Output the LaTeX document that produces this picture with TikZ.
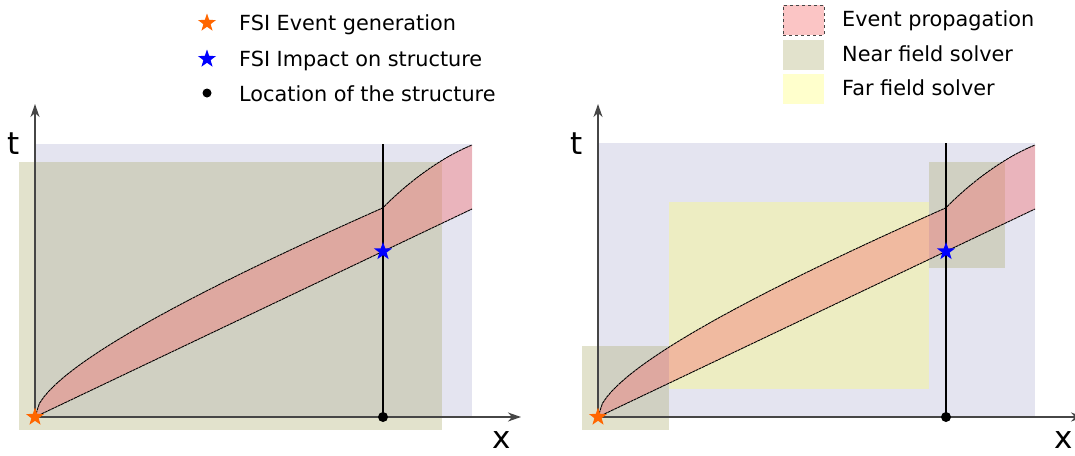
\documentclass[tikz,border=0pt]{standalone}
\usepackage{fontspec}
\setmainfont{DejaVu Sans}
\usetikzlibrary{shapes.geometric,arrows.meta}
\definecolor{lav}{RGB}{228,228,240}
\definecolor{nearc}{RGB}{168,168,102}
\definecolor{farc}{RGB}{255,255,102}
\definecolor{bandc}{RGB}{245,110,110}
\definecolor{orangestar}{RGB}{255,102,0}
\definecolor{axisc}{RGB}{70,70,70}
\begin{document}
\begin{tikzpicture}[x=1pt,y=-1pt,
  domainrect/.style={fill=lav},
  nearfield/.style={fill=nearc,fill opacity=0.333},
  farfield/.style={fill=farc,fill opacity=0.333},
  bandfill/.style={fill=bandc,fill opacity=0.4},
  bandedge/.style={black,line width=0.9pt,dash pattern=on 3pt off 0.6pt},
  axisline/.style={draw=axisc,line width=1.4pt,-{Stealth[length=13pt,width=9pt,inset=4pt]}},
  structline/.style={black,line width=1.2pt},
  ostar/.style={star,star points=5,star point ratio=2.5,fill=orangestar,inner sep=0pt,minimum size=19pt},
  bstar/.style={star,star points=5,star point ratio=2.5,fill=blue,inner sep=0pt,minimum size=19pt},
  sdot/.style={circle,fill=black,inner sep=0pt,minimum size=10pt},
  ldot/.style={circle,fill=black,inner sep=0pt,minimum size=9pt},
  lab/.style={font=\fontsize{20.8}{25}\selectfont,anchor=base west,inner sep=0pt},
  axlab/.style={font=\fontsize{31}{36}\selectfont,anchor=base,inner sep=0pt},
  legbox/.style={minimum width=41pt,minimum height=30pt,inner sep=0pt},
]
\clip (0,0) rectangle (1075,455);

% ---------------- legends ----------------
\node[ostar] (lg1) at (207,23) {};
\node[lab] (lt1) at (239,30) {FSI Event generation};
\node[bstar] (lg2) at (207,59) {};
\node[lab] (lt2) at (239,66) {FSI Impact on structure};
\node[ldot] (lg3) at (207,93) {};
\node[lab] (lt3) at (239,101) {Location of the structure};

\node[legbox,bandfill,draw=axisc,dashed,line width=0.9pt] (lb1) at (803.5,20) {};
\node[lab] (lbt1) at (842,26) {Event propagation};
\node[legbox,nearfield] (lb2) at (803.5,54.5) {};
\node[lab] (lbt2) at (842,61) {Near field solver};
\node[legbox,farfield] (lb3) at (803.5,88.5) {};
\node[lab] (lbt3) at (842,95) {Far field solver};

% ---------------- left panel ----------------
\begin{scope}
  \fill[domainrect] (35,144) rectangle (472,417);
  \fill[nearfield] (19,162) rectangle (442,430);
  \fill[bandfill] plot[domain=0:348,samples=80] ({35+\x},{417-0.286*\x-5.88*sqrt(\x)})
     .. controls (400,190) and (435,160) .. (472,145) -- (472,209) -- cycle;
  \draw[bandedge] plot[domain=0:348,samples=80] ({35+\x},{417-0.286*\x-5.88*sqrt(\x)})
     .. controls (400,190) and (435,160) .. (472,145);
  \coordinate (Lo) at (35,417);
  \coordinate (Lend) at (472,209);
  \coordinate (Lttop) at (35,104);
  \coordinate (Lxend) at (521,417);
  \coordinate (Lstop) at (383,144);
  \draw[bandedge] (Lo) -- (Lend);
  \draw[axisline] (Lo) -- (Lttop);
  \draw[axisline] (Lo) -- (Lxend);
  \node[sdot] (Ldot) at (383,417) {};
  \draw[structline] (Lstop) -- (Ldot.center);
  \node[bstar] (Limp) at (383,251.4) {};
  \node[ostar] (Lgen) at (Lo) {};
  \node[axlab] (Lt) at (14,154) {t};
  \node[axlab] (Lx) at (502,448) {x};
\end{scope}

% ---------------- right panel ----------------
\begin{scope}[xshift=563pt]
  \fill[domainrect] (35,143) rectangle (472,417);
  \fill[farfield] (105.5,202) rectangle (366,389);
  \fill[nearfield] (366,162) rectangle (442,268);
  \fill[nearfield] (19,346) rectangle (105.5,430);
  \fill[bandfill] plot[domain=0:348,samples=80] ({35+\x},{417-0.286*\x-5.88*sqrt(\x)})
     .. controls (400,190) and (435,160) .. (472,145) -- (472,209) -- cycle;
  \draw[bandedge] plot[domain=0:348,samples=80] ({35+\x},{417-0.286*\x-5.88*sqrt(\x)})
     .. controls (400,190) and (435,160) .. (472,145);
  \coordinate (Ro) at (35,417);
  \coordinate (Rend) at (472,209);
  \coordinate (Rttop) at (35,104);
  \coordinate (Rxend) at (521,417);
  \coordinate (Rstop) at (383,143);
  \draw[bandedge] (Ro) -- (Rend);
  \draw[axisline] (Ro) -- (Rttop);
  \draw[axisline] (Ro) -- (Rxend);
  \node[sdot] (Rdot) at (383,417) {};
  \draw[structline] (Rstop) -- (Rdot.center);
  \node[bstar] (Rimp) at (383,251.4) {};
  \node[ostar] (Rgen) at (Ro) {};
  \node[axlab] (Rt) at (14,154) {t};
  \node[axlab] (Rx) at (501,448) {x};
\end{scope}
\end{tikzpicture}
\end{document}
